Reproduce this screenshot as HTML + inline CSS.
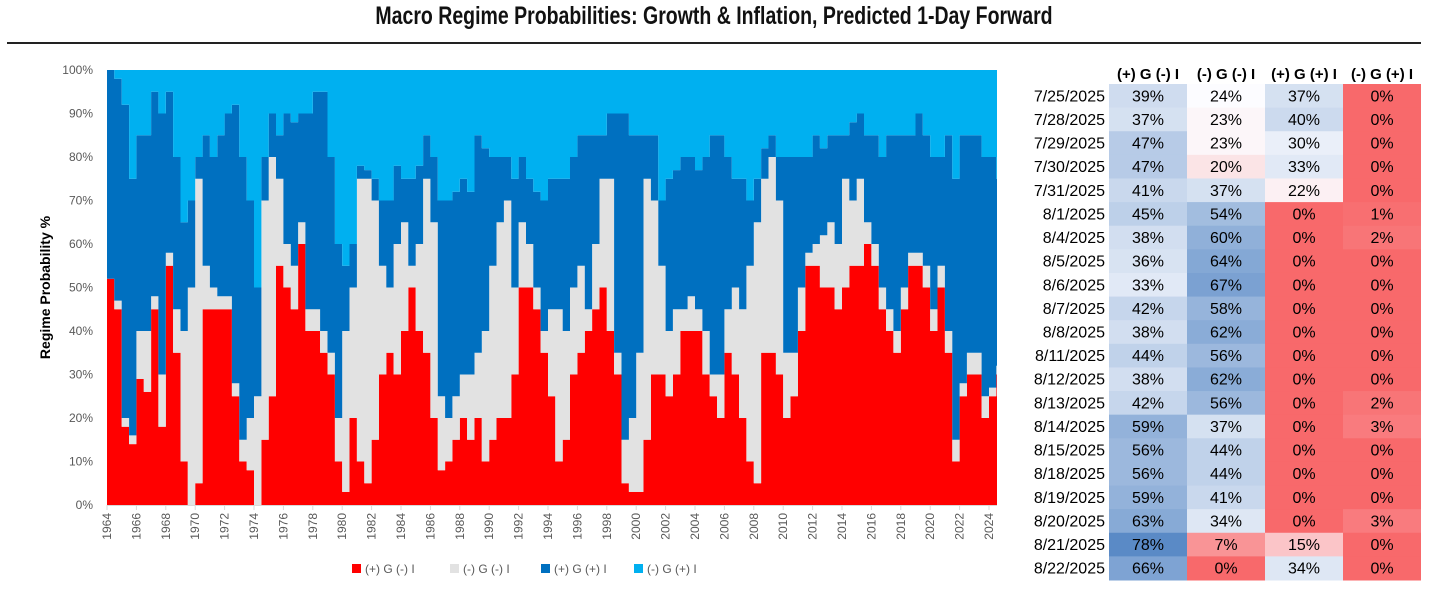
<!DOCTYPE html>
<html><head><meta charset="utf-8">
<style>
body{margin:0;background:#fff;width:1456px;height:599px;overflow:hidden;font-family:"Liberation Sans",sans-serif;}
#title{position:absolute;left:0;top:2px;width:1428px;text-align:center;font-size:25px;font-weight:bold;color:#111;transform:scaleX(0.78);transform-origin:714px 0;letter-spacing:0px}
#rule{position:absolute;left:7px;top:42px;width:1414px;height:2px;background:#222}
</style></head><body>
<div id="title">Macro Regime Probabilities: Growth &amp; Inflation, Predicted 1-Day Forward</div>
<div id="rule"></div>
<svg id="chart" width="1456" height="599" style="position:absolute;left:0;top:0"></svg>
<script>
const startYear = 1964, stepYears = 0.5;
const redShare = [52,45,18,14,29,26,45,18,55,35,10,0,5,45,45,45,45,25,10,8,0,15,25,55,50,45,60,40,40,35,30,10,3,20,10,5,15,30,35,30,40,50,40,35,20,8,10,15,20,15,20,10,15,20,20,30,50,50,45,35,25,10,15,30,35,40,45,50,40,30,5,3,3,15,30,30,25,30,40,40,40,30,25,20,35,30,20,10,5,35,35,30,20,25,40,55,55,50,50,45,50,55,55,60,55,45,40,35,45,55,55,50,40,50,35,10,25,30,30,20,25,30];
const grayShare = [0,2,2,2,11,14,3,12,3,10,30,50,70,10,5,3,3,3,5,12,25,55,55,20,10,10,5,5,5,5,5,10,37,30,65,70,55,25,15,30,25,5,20,40,45,17,10,10,10,15,15,30,40,45,50,20,15,10,5,5,20,35,25,20,20,5,15,25,35,5,10,17,32,60,40,25,15,15,5,8,5,10,5,10,10,20,25,45,60,40,45,40,15,10,10,3,5,12,15,15,25,15,20,5,5,5,5,5,5,3,3,5,5,5,5,5,3,5,5,5,2,2];
const darkBlueShare = [48,51,72,59,45,45,47,60,37,35,25,20,5,30,30,37,42,64,65,50,25,10,10,10,30,33,25,45,50,55,45,40,15,10,3,2,5,15,20,18,10,20,18,10,15,45,50,47,45,42,50,42,25,15,10,25,15,15,22,30,30,30,35,30,30,40,25,10,15,55,75,65,50,10,15,15,35,32,35,32,32,40,55,55,35,25,30,15,10,7,5,10,45,45,30,22,25,20,20,25,10,18,15,20,25,30,40,45,35,27,32,30,35,25,45,60,57,50,50,55,53,43];
const yTicks = [0,10,20,30,40,50,60,70,80,90,100];
const xTickYears = [];
for(let y=1964;y<=2024;y+=2) xTickYears.push(y);
const seriesNames = ["(+) G (-) I","(-) G (-) I","(+) G (+) I","(-) G (+) I"];
const seriesColors = ["#FF0000","#E2E2E2","#0070C0","#00B0F0"];

const NS="http://www.w3.org/2000/svg";
const svg=document.getElementById('chart');
const X0=107, PXY=14.7, Y0=505, Y100=70;
const xs=y=>X0+(y-startYear)*PXY;
const ys=v=>Y0-(v/100)*(Y0-Y100);
const n=redShare.length;
const xEnd=Math.min(xs(startYear+n*stepYears),997);
function mk(t,a){const e=document.createElementNS(NS,t);for(const k in a)e.setAttribute(k,a[k]);svg.appendChild(e);return e;}
// cumulative
const cum=[];
for(let i=0;i<n;i++){const r=redShare[i],g=grayShare[i],d=darkBlueShare[i];cum.push([0,r,r+g,r+g+d,100]);}
for(let s=0;s<4;s++){
  let top="",bot="";
  for(let i=0;i<n;i++){
    const xa=xs(startYear+i*stepYears), xb=Math.min(xs(startYear+(i+1)*stepYears),xEnd);
    top+=(i?"L":"M")+xa.toFixed(1)+","+ys(cum[i][s+1]).toFixed(1)+"L"+xb.toFixed(1)+","+ys(cum[i][s+1]).toFixed(1);
  }
  for(let i=n-1;i>=0;i--){
    const xa=xs(startYear+i*stepYears), xb=Math.min(xs(startYear+(i+1)*stepYears),xEnd);
    bot+="L"+xb.toFixed(1)+","+ys(cum[i][s]).toFixed(1)+"L"+xa.toFixed(1)+","+ys(cum[i][s]).toFixed(1);
  }
  const p=mk('path',{d:top+bot+"Z",fill:seriesColors[s]});
  
  
}
// axis line
const ax=mk('line',{x1:X0,x2:xEnd,y1:Y0+0.5,y2:Y0+0.5,stroke:"#d9d9d9","stroke-width":1});


yTicks.forEach(v=>{
  const t=mk('text',{x:93,y:ys(v)+4,"text-anchor":"end","font-size":"12",fill:"#595959","font-family":"Liberation Sans, sans-serif"});
  t.textContent=v+"%";
  
  
});
xTickYears.forEach(y=>{
  const x=xs(y);
  const tk=mk('line',{x1:x,x2:x,y1:Y0,y2:Y0+5,stroke:"#d9d9d9"});
  
  
  const t=mk('text',{x:0,y:0,"text-anchor":"end","font-size":"12",fill:"#595959","font-family":"Liberation Sans, sans-serif",transform:`translate(${x+4},${Y0+8}) rotate(-90)`});
  t.textContent=y;
  
  
});
const yt=mk('text',{x:0,y:0,"text-anchor":"middle","font-size":"14","font-weight":"bold",fill:"#000","font-family":"Liberation Sans, sans-serif",transform:`translate(50,${(Y0+Y100)/2}) rotate(-90)`});
yt.textContent="Regime Probability %";


const legX=[352,450,541,634];
seriesNames.forEach((nm,i)=>{
  const r=mk('rect',{x:legX[i],y:564,width:9,height:9,fill:seriesColors[i]});
  
  
  const t=mk('text',{x:legX[i]+13,y:573,"font-size":"12",fill:"#595959","font-family":"Liberation Sans, sans-serif"});
  t.textContent=nm;
  
  
});

// table
const dates=["7/25/2025","7/28/2025","7/29/2025","7/30/2025","7/31/2025","8/1/2025","8/4/2025","8/5/2025","8/6/2025","8/7/2025","8/8/2025","8/11/2025","8/12/2025","8/13/2025","8/14/2025","8/15/2025","8/18/2025","8/19/2025","8/20/2025","8/21/2025","8/22/2025"];
const colA=[39,37,47,47,41,45,38,36,33,42,38,44,38,42,59,56,56,59,63,78,66];
const colB=[24,23,23,20,37,54,60,64,67,58,62,56,62,56,37,44,44,41,34,7,0];
const colC=[37,40,30,33,22,0,0,0,0,0,0,0,0,0,0,0,0,0,0,15,34];
const colD=[0,0,0,0,0,1,2,0,0,0,0,0,0,2,3,0,0,0,3,0,0];
const cols=[colA,colB,colC,colD];
const colX=[1109,1187,1265,1343], colW=78, rowTop=84, rowH=496/21;
function heat(v){
  const mid=24,max=78;
  let c1,c2,t;
  if(v<mid){c1=[248,105,107];c2=[252,252,255];t=v/mid;}
  else{c1=[252,252,255];c2=[90,138,198];t=Math.min(1,(v-mid)/(max-mid));}
  return `rgb(${c1.map((a,k)=>Math.round(a+(c2[k]-a)*t)).join(',')})`;
}
seriesNames.forEach((nm,j)=>{
  const t=mk('text',{x:colX[j]+colW/2,y:79,"text-anchor":"middle","font-size":"15","font-weight":"bold",fill:"#000","font-family":"Liberation Sans, sans-serif"});
  t.textContent=nm;
  
  
});
dates.forEach((d,i)=>{
  const y=rowTop+i*rowH;
  const t=mk('text',{x:1105,y:y+rowH/2+5.5,"text-anchor":"end","font-size":"16",fill:"#000","font-family":"Liberation Sans, sans-serif"});
  t.textContent=d;
  
  
  cols.forEach((c,j)=>{
    const r=mk('rect',{x:colX[j],y:y,width:colW,height:rowH+0.5,fill:heat(c[i])});
    
    
    const tt=mk('text',{x:colX[j]+colW/2,y:y+rowH/2+5.5,"text-anchor":"middle","font-size":"16",fill:"#000","font-family":"Liberation Sans, sans-serif"});
    tt.textContent=c[i]+"%";
    
    
  });
});
</script>
</body></html>
